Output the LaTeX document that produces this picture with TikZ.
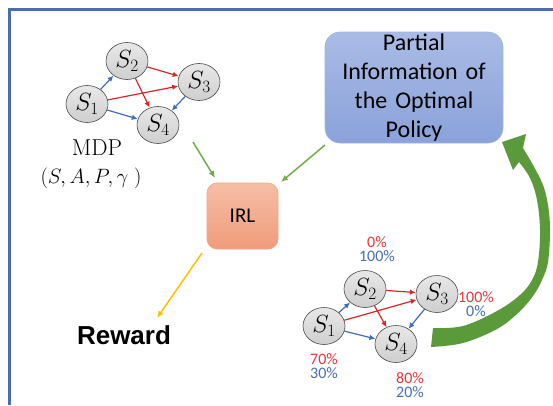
\documentclass[tikz,border=0pt]{standalone}
\usepackage{fontspec}
\usetikzlibrary{arrows.meta,shapes.geometric}
\newfontfamily\calfont{Carlito}
\newfontfamily\arialfont{Liberation Sans}
\definecolor{frameblue}{HTML}{4A6CB0}
\definecolor{arred}{HTML}{D9262B}
\definecolor{arblue}{HTML}{3F6DB8}
\definecolor{lgreen}{HTML}{70AD47}
\definecolor{bgreen}{HTML}{5A9A3A}
\definecolor{ayellow}{HTML}{FFC000}
\definecolor{pctred}{HTML}{E0393E}
\definecolor{pctblue}{HTML}{4A6FB5}
\definecolor{boxtop}{HTML}{AABBE5}
\definecolor{boxbot}{HTML}{8AA2DA}
\definecolor{irltop}{HTML}{F6BEA6}
\definecolor{irlbot}{HTML}{F09B7A}
\begin{document}
\begin{tikzpicture}[x=1pt,y=-1pt,
  st/.style={ellipse,draw=gray!60!black,line width=0.6pt,top color=gray!18,bottom color=gray!38,
    minimum width=42pt,minimum height=37pt,inner sep=0pt,font=\fontsize{26}{30}\selectfont},
  ra/.style={draw=arred,line width=1.2pt,-{Latex[length=6pt,width=5.5pt]}},
  ba/.style={draw=arblue,line width=1.2pt,-{Latex[length=6pt,width=5.5pt]}},
  ga/.style={draw=lgreen,line width=1.5pt,-{Latex[length=7pt,width=6pt]}},
  ya/.style={draw=ayellow,line width=1.5pt,-{Latex[length=7pt,width=6pt]}},
  pct/.style={align=center,inner sep=0pt,font=\calfont\fontsize{16}{14.5}\selectfont}]
\useasboundingbox (0,0) rectangle (553,405);
\fill[white] (0,0) rectangle (553,405);
\draw[frameblue,line width=2.2pt] (9.5,405) -- (9.5,9.5) -- (553,9.5);

% top-left MDP graph
\node[st] (a1) at (87,104) {$S_1$};
\node[st] (a2) at (127,61) {$S_2$};
\node[st] (a3) at (199,82) {$S_3$};
\node[st] (a4) at (158,125) {$S_4$};
\draw[ba] (a1) -- (a2);
\draw[ra] (a1) -- (a3);
\draw[ba] (a1) -- (a4);
\draw[ra] (a2) -- (a3);
\draw[ra] (a2) -- (a4);
\draw[ba] (a3) -- (a4);
\node[font=\fontsize{23}{26}\selectfont,inner sep=0pt] (mdp) at (97,148) {MDP};
\node[font=\fontsize{21}{24}\selectfont,inner sep=0pt] (tuple) at (91,178) {$(S,A,P,\gamma\;)$};

% boxes
\node[draw=boxbot!80!white,line width=0.6pt,rounded corners=15pt,top color=boxtop,bottom color=boxbot,
  minimum width=178pt,minimum height=111pt,text width=172pt,align=center,inner sep=0pt,
  font=\calfont\fontsize{24}{29}\selectfont] (pol) at (414,87.5)
  {Partial\\Information of\\the Optimal\\Policy};
\node[draw=irlbot!90!white,line width=0.6pt,rounded corners=10pt,top color=irltop,bottom color=irlbot,
  minimum width=71pt,minimum height=66pt,inner sep=0pt,font=\calfont\fontsize{21}{24}\selectfont]
  (irl) at (242.5,216) {IRL};
\node[font=\arialfont\bfseries\fontsize{26}{30}\selectfont,inner sep=0pt] (rew) at (124,335) {Reward};

% connectors
\coordinate (g1s) at (193,142);
\coordinate (g1e) at (215,178);
\coordinate (g2s) at (325,145);
\coordinate (g2e) at (281,182);
\coordinate (y1s) at (202,253);
\coordinate (y1e) at (157,318);
\draw[ga] (g1s) -- (g1e);
\draw[ga] (g2s) -- (g2e);
\draw[ya] (y1s) -- (y1e);

% bottom-right graph
\node[st] (b1) at (324,326) {$S_1$};
\node[st] (b2) at (365,289) {$S_2$};
\node[st] (b3) at (437,294) {$S_3$};
\node[st] (b4) at (396,344) {$S_4$};
\draw[ba] (b1) -- (b2);
\draw[ra] (b1) -- (b3);
\draw[ba] (b1) -- (b4);
\draw[ra] (b2) -- (b3);
\draw[ra] (b2) -- (b4);
\draw[ba] (b3) -- (b4);
\node[pct] (p2) at (377,249) {\textcolor{pctred}{0\%}\\\textcolor{pctblue}{100\%}};
\node[pct] (p3) at (476,304) {\textcolor{pctred}{100\%}\\\textcolor{pctblue}{0\%}};
\node[pct] (p1) at (324,366) {\textcolor{pctred}{70\%}\\\textcolor{pctblue}{30\%}};
\node[pct] (p4) at (410,385) {\textcolor{pctred}{80\%}\\\textcolor{pctblue}{20\%}};

% big curved green arrow
\fill[bgreen] plot[smooth,tension=0.6] coordinates {(431,347) (463,343) (497,329) (518,313) (533,296) (542,280) (548,262) (550,230) (548,205) (543,185) (533,165) (523,148)}
  -- (526,134) -- (502,142) -- (513,170)
  -- plot[smooth,tension=0.6] coordinates {(519,162) (530,178) (537,200) (540,230) (538,262) (532,280) (520,295) (497,311) (463,326) (433,328)}
  -- cycle;
\end{tikzpicture}
\end{document}
